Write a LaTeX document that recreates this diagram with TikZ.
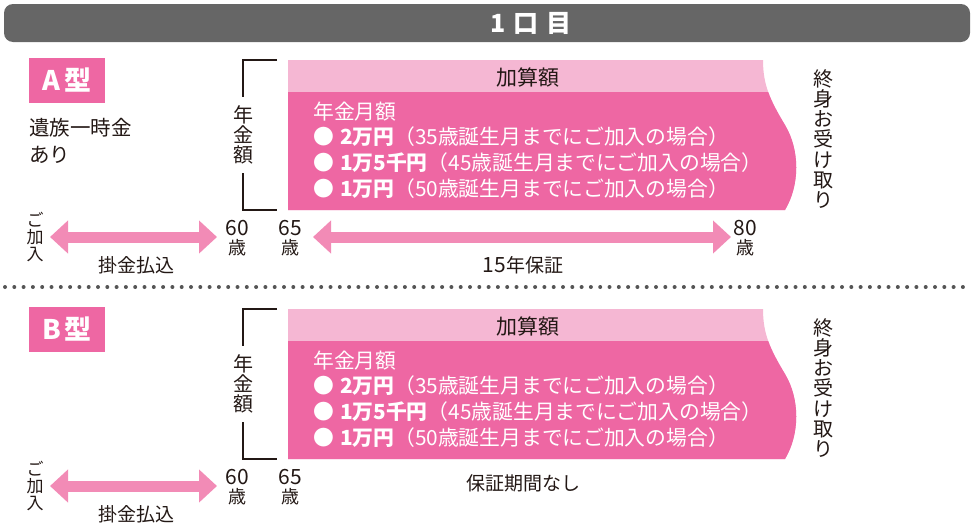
\documentclass[tikz,border=0pt]{standalone}
\usepackage{fontspec}
\setmainfont{Noto Sans CJK JP}
\usetikzlibrary{arrows.meta}
\definecolor{pinkd}{HTML}{EE67A3}
\definecolor{pinkl}{HTML}{F5B7D3}
\definecolor{pinka}{HTML}{F28BB6}
\definecolor{headg}{HTML}{666666}
\definecolor{textc}{HTML}{231815}
\definecolor{dotc}{HTML}{555555}
\newcommand\bigdig[1]{{\fontsize{21}{19}\selectfont #1}}
\tikzset{
  txt/.style={text=textc, inner sep=0pt, font=\fontsize{19}{19}\selectfont},
  body/.style={text=white, inner sep=0pt, anchor=west, font=\fontsize{20.8}{20}\selectfont},
  vstack/.style={text=textc, inner sep=0pt, align=center},
  agelbl/.style={text=textc, inner sep=0pt, align=center, font=\fontsize{18}{19}\selectfont},
  bracketline/.style={draw=textc, line width=2pt},
  pinkarrow/.style={draw=pinka, line width=11pt, {Triangle[length=18pt,width=32pt]}-{Triangle[length=18pt,width=32pt]}},
  typebox/.style={fill=pinkd, text=white, inner sep=0pt, minimum width=76pt, minimum height=45pt, font=\fontsize{27}{27}\selectfont\bfseries}
}
\newcommand\plansec[2]{%
  \node[typebox] (#1type) at (67,80) {#2\hspace{4pt}型};
  % pink box
  \path[fill=pinkl] (288,60) -- (763,60) .. controls (763,85) and (770,100) .. (785,125)
     .. controls (800,150) and (800,185) .. (785,210) -- (288,210) -- cycle;
  \begin{scope}
    \clip (280,92) rectangle (820,215);
    \path[fill=pinkd] (288,60) -- (763,60) .. controls (763,85) and (770,100) .. (785,125)
       .. controls (800,150) and (800,185) .. (785,210) -- (288,210) -- cycle;
  \end{scope}
  \node[txt, font=\fontsize{21}{21}\selectfont] (#1kasan) at (528,77) {加算額};
  \node[body] (#1getsu) at (313,112) {年金月額};
  \node[body] (#1l1) at (313,137) {●\hspace{6pt}{\bfseries 2万円}（35歳誕生月までにご加入の場合）};
  \node[body] (#1l2) at (313,163) {●\hspace{6pt}{\bfseries 1万5千円}（45歳誕生月までにご加入の場合）};
  \node[body] (#1l3) at (313,189) {●\hspace{6pt}{\bfseries 1万円}（50歳誕生月までにご加入の場合）};
  % bracket
  \node[vstack, font=\fontsize{20}{20}\selectfont] (#1nenkin) at (243,135) {年\\金\\額};
  \coordinate (#1bt) at (277,60);
  \coordinate (#1bb) at (277,210);
  \draw[bracketline] (#1bt) -- (243,60) -- (#1nenkin.north |- 0,97);
  \draw[bracketline] (#1nenkin.south |- 0,173) -- (243,210) -- (#1bb);
  \node[vstack, font=\fontsize{20}{20.3}\selectfont] (#1shushin) at (823,139) {終\\身\\お\\受\\け\\取\\り};
  % lower row
  \node[vstack, font=\fontsize{17}{17}\selectfont] (#1kanyu) at (35,237) {ご\\加\\入};
  \node[agelbl] (#1a60) at (237,238) {\bigdig{60}\\歳};
  \node[agelbl] (#1a65) at (290,238) {\bigdig{65}\\歳};
  \coordinate (#1p1) at (50,237);
  \coordinate (#1p2) at (217,237);
  \draw[pinkarrow] (#1p1) -- (#1p2);
  \node[txt] (#1kake) at (136,265) {掛金払込};
}
\begin{document}
\begin{tikzpicture}[x=1pt,y=-1pt]
\useasboundingbox (0,0) rectangle (971,525);
% header
\node[fill=headg, rounded corners=9pt, minimum width=966pt, minimum height=38pt, inner sep=0pt,
      text=white, font=\fontsize{25}{25}\selectfont\bfseries] (head) at (487,23)
      {\hspace{88pt}1\hspace{8pt}口\hspace{8pt}目};
% section A
\plansec{a}{A}
\node[txt, anchor=west, font=\fontsize{20.5}{20}\selectfont] (aizoku) at (29,128) {遺族一時金};
\node[txt, anchor=west, font=\fontsize{20.5}{20}\selectfont] (aari) at (29,155) {あり};
\node[agelbl] (a80) at (745,238) {\bigdig{80}\\歳};
\coordinate (aq1) at (313,237);
\coordinate (aq2) at (731,237);
\draw[pinkarrow] (aq1) -- (aq2);
\node[txt] (ahosho) at (523,265) {\bigdig{15}年保証};
% divider
\coordinate (dl) at (5,287);
\coordinate (dr) at (968,287);
\draw[dotc, line width=4pt, line cap=round, dash pattern=on 0pt off 9.3pt] (dl) -- (dr);
% section B
\begin{scope}[yshift=-249pt]
\plansec{b}{B}
\end{scope}
\node[txt] (bhosho) at (523,483) {保証期間なし};
\end{tikzpicture}
\end{document}
